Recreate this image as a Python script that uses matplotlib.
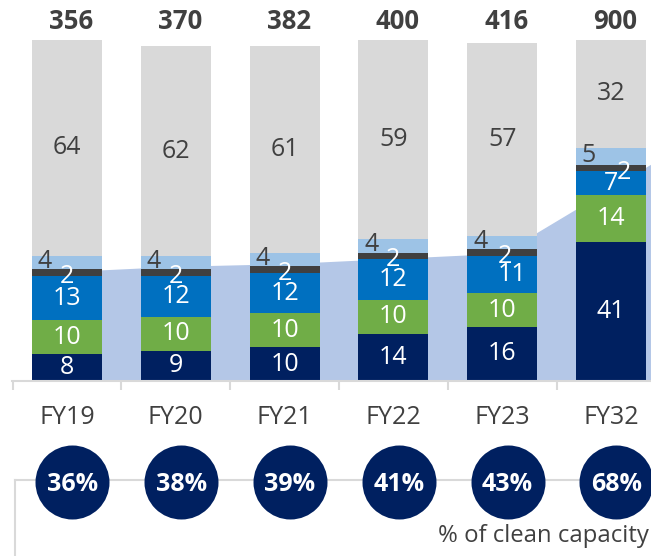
import matplotlib
matplotlib.use("Agg")
import matplotlib.pyplot as plt
import numpy as np
from matplotlib.transforms import blended_transform_factory
from matplotlib.lines import Line2D

plt.rcParams['font.family'] = ['Open Sans', 'DejaVu Sans']

# ---------------- data ----------------
categories = ["FY19", "FY20", "FY21", "FY22", "FY23", "FY32"]
totals = [356, 370, 382, 400, 416, 900]
navy = [8, 9, 10, 14, 16, 41]
green = [10, 10, 10, 10, 10, 14]
blue = [13, 12, 12, 12, 11, 7]
dark_gray = [2, 2, 2, 2, 2, 2]
light_blue = [4, 4, 4, 4, 4, 5]
light_gray = [64, 62, 61, 59, 57, 32]
clean_pct = [36, 38, 39, 41, 43, 68]

# ---------------- layout ----------------
W, H = 651, 556
fig = plt.figure(figsize=(W / 100, H / 100), dpi=100)
fig.patch.set_facecolor("white")

base_px = 381          # axis line, px from top
step_px = 108.8        # px per category
first_px = 67          # first bar centre
unit_px = 3.38         # px per stacked unit
left_px = 12

ax = fig.add_axes([left_px / W, (H - base_px) / H, (W - left_px) / W, base_px / H])
ax2 = ax.twinx()
ax.set_zorder(ax2.get_zorder() + 1)
ax.patch.set_visible(False)

x0 = (left_px - first_px) / step_px
x1 = (W - first_px) / step_px
ymax = base_px / unit_px
ax.set_xlim(x0, x1)
ax.set_ylim(0, ymax)

# secondary scale for the background clean-share area
a_scale, b_off = 0.772, 4.6
ax2.set_ylim((0 - b_off) / a_scale, (ymax - b_off) / a_scale)
ax2.set_xlim(x0, x1)
ax2.axis("off")

x = np.arange(len(categories))
xa = list(x) + [x1]
ya = list(clean_pct) + [clean_pct[-1] + (clean_pct[-1] - clean_pct[-2]) * (x1 - x[-1])]
ax2.fill_between(xa, ya, ax2.get_ylim()[0], color="#B4C7E7", linewidth=0)

series = [navy, green, blue, dark_gray, light_blue, light_gray]
colors = ["#002060", "#70AD47", "#0070C0", "#404040", "#9DC3E6", "#D9D9D9"]
txt_colors = ["white", "white", "white", "white", "#404040", "#404040"]
bar_w = 70 / step_px

bottom = np.zeros(len(categories))
for k, (vals, col) in enumerate(zip(series, colors)):
    vals = np.array(vals, dtype=float)
    ax.bar(x, vals, bar_w, bottom=bottom, color=col, linewidth=0, zorder=2)
    for i, v in enumerate(vals):
        cx = x[i]
        cy = bottom[i] + v / 2
        if k == 4:
            cx -= 22 / step_px
            cy += 1 / unit_px
        if k == 3:
            cy -= 4 / unit_px
            cx += [0, 0, 0, 0, 3, 13][i] / step_px
        if k == 2:
            cx += [0, 0, 0, 0, 10, 0][i] / step_px
        ax.text(cx, cy, f"{int(v)}", ha="center", va="center",
                color=txt_colors[k], fontsize=18, zorder=5)
    bottom += vals

# axis styling
for s in ["top", "right", "left"]:
    ax.spines[s].set_visible(False)
ax.spines["bottom"].set_color("#D9D9D9")
ax.spines["bottom"].set_linewidth(1.5)
ax.set_yticks([])
ax.set_xticks([])
ax.set_xticks(np.arange(-0.5, x1, 1.0), minor=True)
ax.tick_params(axis="x", which="minor", length=6.5, width=1.5, color="#D9D9D9")

figy = lambda px: 1 - px / H
tr = blended_transform_factory(ax.transData, fig.transFigure)

# category labels
for i, c in enumerate(categories):
    ax.text(x[i], figy(424), c, transform=tr, ha="center", va="baseline",
            fontsize=18, color="#404040", clip_on=False)

# totals
for i, t in enumerate(totals):
    ax.text(x[i] + 0.04, figy(29), f"{t}", transform=tr, ha="center", va="baseline",
            fontsize=18.5, fontweight="bold", color="#404040", clip_on=False)

# bracket lines
fig.add_artist(Line2D([15 / W, 1], [figy(480), figy(480)], transform=fig.transFigure,
                      color="#D9D9D9", linewidth=1.5, zorder=-1))
fig.add_artist(Line2D([15 / W, 15 / W], [figy(480), 0], transform=fig.transFigure,
                      color="#D9D9D9", linewidth=1.5, zorder=-1))

# clean-share circles
cx_off = 0.05
ax.scatter(x + cx_off, [figy(482)] * len(x), s=(74 * 0.72) ** 2, color="#002060",
           transform=tr, clip_on=False, zorder=6, linewidths=0)
for i, p in enumerate(clean_pct):
    ax.text(x[i] + cx_off, figy(491), f"{p}%", transform=tr, ha="center", va="baseline",
            fontsize=18, fontweight="bold", color="white", clip_on=False, zorder=7)

fig.text(649 / W, figy(542), "% of clean capacity", ha="right", va="baseline",
         fontsize=17.2, color="#404040")

fig.savefig("out.png", dpi=100)
